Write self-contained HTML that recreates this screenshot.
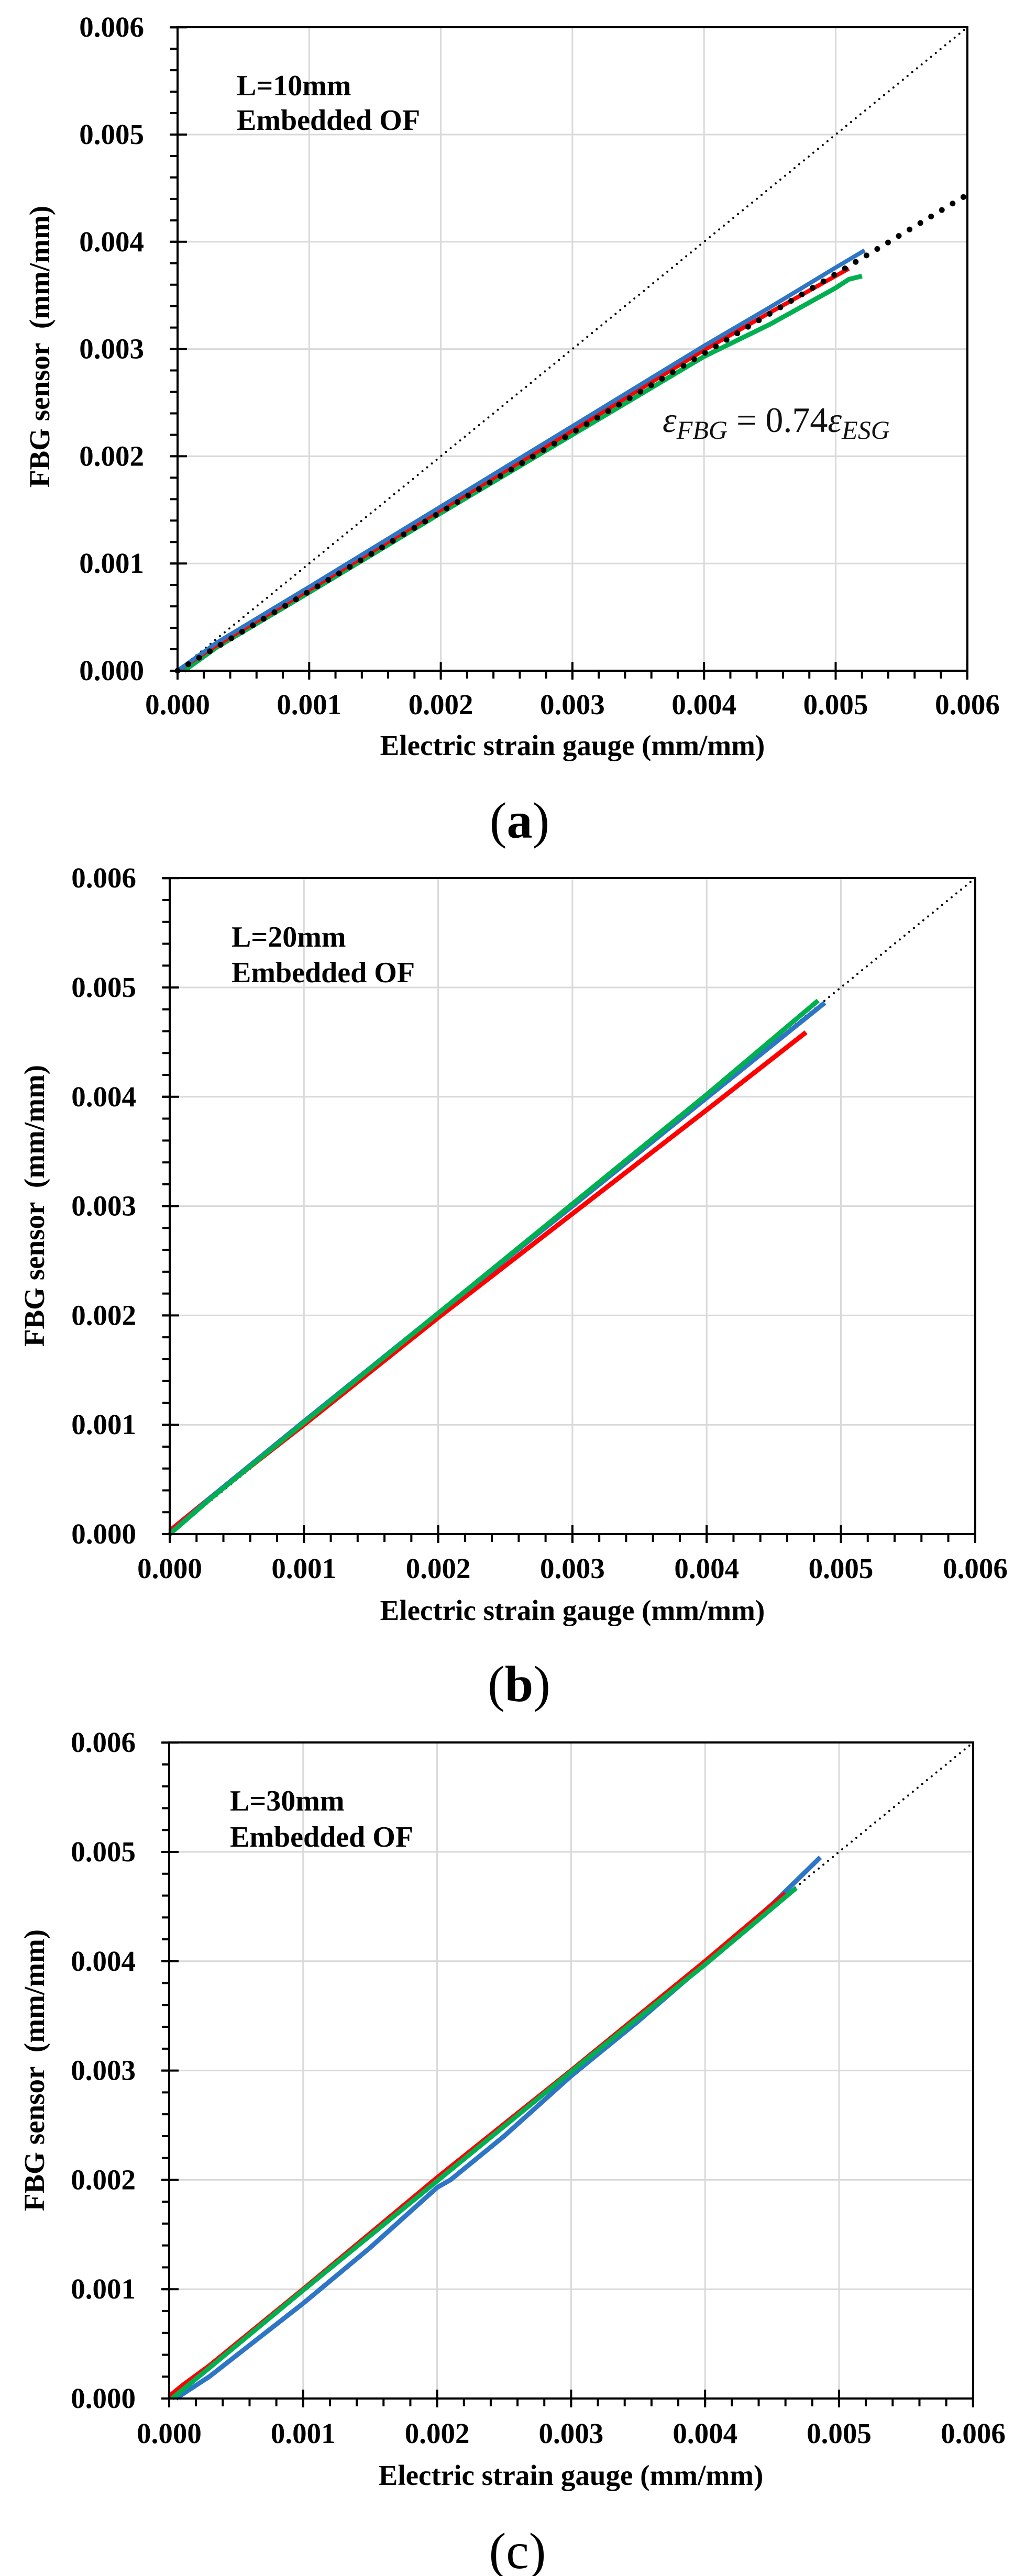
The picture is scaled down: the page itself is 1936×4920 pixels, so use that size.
<!DOCTYPE html>
<html><head><meta charset="utf-8"><style>
html,body{margin:0;padding:0;background:#fff;}
svg{display:block;}
text{font-family:"Liberation Serif","Times New Roman",serif;}
.t{font-size:55px;font-weight:bold;fill:#000;}
.ann{font-size:56px;font-weight:bold;fill:#000;}
.cap{font-size:98px;fill:#000;}
</style></head><body>
<svg width="1936" height="4920" viewBox="0 0 1936 4920" xmlns="http://www.w3.org/2000/svg">
<rect width="1936" height="4920" fill="#fff"/>

<!-- ================= PANEL A ================= -->
<g transform="translate(339,1281)">
  <g stroke="#d9d9d9" stroke-width="3">
    <line x1="251.3" y1="0" x2="251.3" y2="-1229"/><line x1="502.6" y1="0" x2="502.6" y2="-1229"/>
    <line x1="753.9" y1="0" x2="753.9" y2="-1229"/><line x1="1005.2" y1="0" x2="1005.2" y2="-1229"/>
    <line x1="1256.5" y1="0" x2="1256.5" y2="-1229"/>
    <line x1="0" y1="-204.8" x2="1508" y2="-204.8"/><line x1="0" y1="-409.6" x2="1508" y2="-409.6"/>
    <line x1="0" y1="-614.4" x2="1508" y2="-614.4"/><line x1="0" y1="-819.2" x2="1508" y2="-819.2"/>
    <line x1="0" y1="-1024" x2="1508" y2="-1024"/>
  </g>
  <line x1="0" y1="0" x2="1508" y2="-1229" stroke="#000" stroke-width="4" stroke-linecap="round" stroke-dasharray="0 11.6"/>
  <polyline fill="none" stroke="#00b050" stroke-width="9" stroke-linejoin="round" points="12.6,0 75.4,-45.1 251.3,-149.5 502.6,-301.1 753.9,-450.6 1005.2,-600.1 1130.9,-661.5 1256.5,-731.1 1281.6,-747.5 1306.8,-753.7"/>
  <polyline fill="none" stroke="#ff0000" stroke-width="8" stroke-linejoin="round" points="0,0 75.4,-49.2 251.3,-154.6 502.6,-307.2 753.9,-458.8 1005.2,-612.4 1130.9,-684 1281.6,-768"/>
  <polyline fill="none" stroke="#2e75c6" stroke-width="8" stroke-linejoin="round" points="0,0 75.4,-54 251.3,-160 502.6,-313.5 753.9,-467 1005.2,-620.5 1130.9,-694 1256.5,-770 1311.8,-802.8"/>
  <line x1="0" y1="0" x2="1508" y2="-909.3" stroke="#000" stroke-width="11" stroke-linecap="round" stroke-dasharray="0 24"/>
  <rect x="0" y="-1229" width="1508" height="1229" fill="none" stroke="#000" stroke-width="4"/>
  <line x1="-2" y1="7.5" x2="1510" y2="7.5" stroke="#000" stroke-width="15" stroke-dasharray="4 46.26"/>
  <line x1="-2" y1="0" x2="1510" y2="0" stroke="#000" stroke-width="34" stroke-dasharray="4 247.3"/>
  <line x1="-7" y1="2" x2="-7" y2="-1231" stroke="#000" stroke-width="14" stroke-dasharray="4 36.96"/>
  <line x1="1.5" y1="2" x2="1.5" y2="-1231" stroke="#000" stroke-width="33" stroke-dasharray="4 200.8"/>
  <g class="t" text-anchor="end">
    <text x="-64" y="18">0.000</text><text x="-64" y="-186.8">0.001</text><text x="-64" y="-391.6">0.002</text>
    <text x="-64" y="-596.4">0.003</text><text x="-64" y="-801.2">0.004</text><text x="-64" y="-1006">0.005</text><text x="-64" y="-1211">0.006</text>
  </g>
  <g class="t" text-anchor="middle">
    <text x="0" y="83">0.000</text><text x="251.3" y="83">0.001</text><text x="502.6" y="83">0.002</text><text x="753.9" y="83">0.003</text>
    <text x="1005.2" y="83">0.004</text><text x="1256.5" y="83">0.005</text><text x="1508" y="83">0.006</text>
    <text x="754" y="161">Electric strain gauge (mm/mm)</text>
  </g>
  <text class="t" text-anchor="middle" transform="translate(-245,-619) rotate(-90)" xml:space="preserve">FBG sensor  (mm/mm)</text>
  <text class="ann" x="113" y="-1099">L=10mm</text>
  <text class="ann" x="113" y="-1033">Embedded OF</text>
  <text x="926" y="-456" font-size="68" font-style="italic" fill="#111">ε<tspan font-size="50" dy="13">FBG</tspan><tspan font-style="normal" dy="-13" font-size="68"> = 0.74</tspan>ε<tspan font-size="50" dy="13">ESG</tspan></text>
</g>
<text class="cap" x="992" y="1600" text-anchor="middle">(<tspan font-weight="bold">a</tspan>)</text>

<!-- ================= PANEL B ================= -->
<g transform="translate(324,2930)">
  <g stroke="#d9d9d9" stroke-width="3">
    <line x1="256.3" y1="0" x2="256.3" y2="-1253"/><line x1="512.6" y1="0" x2="512.6" y2="-1253"/>
    <line x1="768.9" y1="0" x2="768.9" y2="-1253"/><line x1="1025.2" y1="0" x2="1025.2" y2="-1253"/>
    <line x1="1281.5" y1="0" x2="1281.5" y2="-1253"/>
    <line x1="0" y1="-208.8" x2="1538" y2="-208.8"/><line x1="0" y1="-417.6" x2="1538" y2="-417.6"/>
    <line x1="0" y1="-626.4" x2="1538" y2="-626.4"/><line x1="0" y1="-835.2" x2="1538" y2="-835.2"/>
    <line x1="0" y1="-1044" x2="1538" y2="-1044"/>
  </g>
  <line x1="0" y1="0" x2="1538" y2="-1253" stroke="#000" stroke-width="4" stroke-linecap="round" stroke-dasharray="0 11.6"/>
  <polyline fill="none" stroke="#ff0000" stroke-width="9" stroke-linejoin="round" points="0,-6.3 76.9,-68.9 256.3,-208.8 512.6,-413.4 768.9,-611.8 1025.2,-810.1 1214.9,-958.4"/>
  <polyline fill="none" stroke="#2e75c6" stroke-width="9" stroke-linejoin="round" points="0,0 76.9,-68.9 256.3,-215.1 512.6,-421.8 768.9,-626.4 1025.2,-833.1 1250.7,-1014.8"/>
  <polyline fill="none" stroke="#00b050" stroke-width="9" stroke-linejoin="round" points="0,0 76.9,-66.8 256.3,-213 512.6,-421.8 768.9,-630.6 1025.2,-839.4 1237.9,-1018.9"/>
  <rect x="0" y="-1253" width="1538" height="1253" fill="none" stroke="#000" stroke-width="4"/>
  <line x1="-2" y1="7.5" x2="1540" y2="7.5" stroke="#000" stroke-width="15" stroke-dasharray="4 47.26"/>
  <line x1="-2" y1="0" x2="1540" y2="0" stroke="#000" stroke-width="34" stroke-dasharray="4 252.3"/>
  <line x1="-7" y1="2" x2="-7" y2="-1255" stroke="#000" stroke-width="14" stroke-dasharray="4 37.76"/>
  <line x1="1.5" y1="2" x2="1.5" y2="-1255" stroke="#000" stroke-width="33" stroke-dasharray="4 204.8"/>
  <g class="t" text-anchor="end">
    <text x="-64" y="18">0.000</text><text x="-64" y="-190.8">0.001</text><text x="-64" y="-399.6">0.002</text>
    <text x="-64" y="-608.4">0.003</text><text x="-64" y="-817.2">0.004</text><text x="-64" y="-1026">0.005</text><text x="-64" y="-1235">0.006</text>
  </g>
  <g class="t" text-anchor="middle">
    <text x="0" y="84">0.000</text><text x="256.3" y="84">0.001</text><text x="512.6" y="84">0.002</text><text x="768.9" y="84">0.003</text>
    <text x="1025.2" y="84">0.004</text><text x="1281.5" y="84">0.005</text><text x="1538" y="84">0.006</text>
    <text x="769" y="164">Electric strain gauge (mm/mm)</text>
  </g>
  <text class="t" text-anchor="middle" transform="translate(-240,-627) rotate(-90)" xml:space="preserve">FBG sensor  (mm/mm)</text>
  <text class="ann" x="118" y="-1122">L=20mm</text>
  <text class="ann" x="118" y="-1054">Embedded OF</text>
</g>
<text class="cap" x="991" y="3249" text-anchor="middle">(<tspan font-weight="bold">b</tspan>)</text>

<!-- ================= PANEL C ================= -->
<g transform="translate(323,4581)">
  <g stroke="#d9d9d9" stroke-width="3">
    <line x1="255.8" y1="0" x2="255.8" y2="-1253"/><line x1="511.6" y1="0" x2="511.6" y2="-1253"/>
    <line x1="767.4" y1="0" x2="767.4" y2="-1253"/><line x1="1023.2" y1="0" x2="1023.2" y2="-1253"/>
    <line x1="1279" y1="0" x2="1279" y2="-1253"/>
    <line x1="0" y1="-208.8" x2="1535" y2="-208.8"/><line x1="0" y1="-417.6" x2="1535" y2="-417.6"/>
    <line x1="0" y1="-626.4" x2="1535" y2="-626.4"/><line x1="0" y1="-835.2" x2="1535" y2="-835.2"/>
    <line x1="0" y1="-1044" x2="1535" y2="-1044"/>
  </g>
  <line x1="0" y1="0" x2="1535" y2="-1253" stroke="#000" stroke-width="4" stroke-linecap="round" stroke-dasharray="0 11.6"/>
  <polyline fill="none" stroke="#2e75c6" stroke-width="9" stroke-linejoin="round" points="12.8,0 76.7,-41.8 255.8,-181.7 383.7,-288.1 511.6,-403 537.2,-417.6 639.5,-501.1 767.4,-616 895.3,-720.4 1023.2,-831 1151.1,-943.8 1243.2,-1033.6"/>
  <polyline fill="none" stroke="#ff0000" stroke-width="9" stroke-linejoin="round" points="0,-4.2 25.6,-25.1 76.7,-62.6 255.8,-208.8 511.6,-421.8 767.4,-626.4 1023.2,-835.2 1176.7,-964.7"/>
  <polyline fill="none" stroke="#00b050" stroke-width="9" stroke-linejoin="round" points="5.1,0 76.7,-58.5 255.8,-206.7 511.6,-415.5 767.4,-624.3 1023.2,-828.9 1197.1,-975.1"/>
  <rect x="0" y="-1253" width="1535" height="1253" fill="none" stroke="#000" stroke-width="4"/>
  <line x1="-2" y1="7.5" x2="1537" y2="7.5" stroke="#000" stroke-width="15" stroke-dasharray="4 47.16"/>
  <line x1="-2" y1="0" x2="1537" y2="0" stroke="#000" stroke-width="34" stroke-dasharray="4 251.8"/>
  <line x1="-7" y1="2" x2="-7" y2="-1255" stroke="#000" stroke-width="14" stroke-dasharray="4 37.76"/>
  <line x1="1.5" y1="2" x2="1.5" y2="-1255" stroke="#000" stroke-width="33" stroke-dasharray="4 204.8"/>
  <g class="t" text-anchor="end">
    <text x="-64" y="18">0.000</text><text x="-64" y="-190.8">0.001</text><text x="-64" y="-399.6">0.002</text>
    <text x="-64" y="-608.4">0.003</text><text x="-64" y="-817.2">0.004</text><text x="-64" y="-1026">0.005</text><text x="-64" y="-1235">0.006</text>
  </g>
  <g class="t" text-anchor="middle">
    <text x="0" y="85">0.000</text><text x="255.8" y="85">0.001</text><text x="511.6" y="85">0.002</text><text x="767.4" y="85">0.003</text>
    <text x="1023.2" y="85">0.004</text><text x="1279" y="85">0.005</text><text x="1535" y="85">0.006</text>
    <text x="767" y="165">Electric strain gauge (mm/mm)</text>
  </g>
  <text class="t" text-anchor="middle" transform="translate(-239,-627) rotate(-90)" xml:space="preserve">FBG sensor  (mm/mm)</text>
  <text class="ann" x="116" y="-1123">L=30mm</text>
  <text class="ann" x="116" y="-1054">Embedded OF</text>
</g>
<text class="cap" x="988" y="4905" text-anchor="middle">(<tspan>c</tspan>)</text>
</svg>
</body></html>
